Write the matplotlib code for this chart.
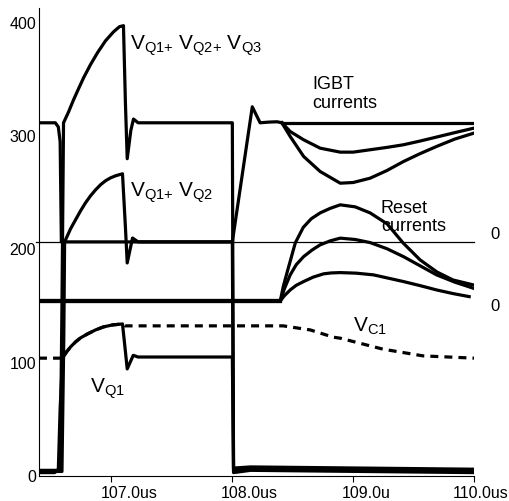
import matplotlib
matplotlib.use("Agg")
import matplotlib.pyplot as plt

plt.rcParams['font.family'] = ['Liberation Sans', 'DejaVu Sans']
plt.rcParams['mathtext.fontset'] = 'custom'
plt.rcParams['mathtext.rm'] = 'Liberation Sans'
plt.rcParams['mathtext.it'] = 'Liberation Sans'

# x in microseconds, y in volts (currents are drawn offset on the same scale)
t_vq123 = [106.40, 106.575, 106.59, 106.603, 106.645, 106.686, 106.727, 106.769, 106.826,
           106.884, 106.95, 107.017, 107.066, 107.099,
           107.115, 107.13, 107.16, 107.182, 107.22, 108.0, 108.01, 108.15, 110.0]
v_vq123 = [5, 5, 150, 311.7, 321.4, 332, 341.7, 351.4, 363,
           373.5, 384, 392, 396.5, 397.4,
           330, 280, 305, 315, 311.7, 311.7, 7, 8, 6]

t_vq12 = [106.40, 106.59, 106.605, 106.612, 106.661, 106.702, 106.744, 106.785, 106.826,
          106.868, 106.909, 106.95, 106.992, 107.033, 107.091,
          107.115, 107.13, 107.174, 107.22, 108.0, 108.01, 108.15, 110.0]
v_vq12 = [4, 4, 120, 206.6, 218.1, 226.0, 234.0, 241.1, 247.2,
          252.5, 257.0, 260.5, 263.1, 264.9, 266.7,
          220, 188, 210, 206.6, 206.6, 5, 6, 4.5]

t_vq1 = [106.40, 106.53, 106.56, 106.575, 106.595, 106.628, 106.661, 106.702, 106.744,
         106.802, 106.868, 106.934, 107.008, 107.091,
         107.115, 107.13, 107.18, 107.22, 108.0, 108.01, 108.15, 110.0]
v_vq1 = [3, 3, 6, 60, 104, 109.5, 113.9, 118.3, 121.9,
         125.4, 128.9, 131.6, 133.3, 134.2,
         110, 94.5, 106.5, 105, 105, 3, 5, 3]

t_vc1 = [106.40, 106.57, 106.595, 106.628, 106.661, 106.702, 106.744, 106.802, 106.868,
         106.934, 107.008, 107.091, 107.11,
         108.421, 108.645, 108.835, 108.893, 109.248, 109.579, 110.0]
v_vc1 = [104, 104, 104, 109.5, 113.9, 118.3, 121.9, 125.4, 128.9,
         131.6, 133.3, 134.2, 132.5,
         132.5, 128.9, 122.5, 121.6, 111.9, 106, 104]

# IGBT currents: common part, then three branches
t_igbt = [106.40, 106.535, 106.56, 106.575, 106.585, 108.0, 108.165, 108.23, 108.30, 108.37, 108.41]
v_igbt = [311.7, 311.7, 308, 295, 206.6, 206.6, 325.8, 311.7, 312.3, 312.6, 311.7]
t_igbt_tail = [108.41, 108.479, 108.59, 108.727, 108.893, 109.0, 109.14, 109.28,
               109.416, 109.55, 109.69, 109.84, 110.0]
igbt_a = [311.7] * 13
igbt_b = [311.7, 304.0, 296.7, 289.3, 285.8, 285.8, 287.9, 290.0,
          292.3, 295.5, 299.1, 303.0, 307.0]
igbt_c = [311.7, 299.6, 282.0, 268.7, 258.4, 259.0, 262.8, 269.6,
          277.5, 284.3, 290.8, 297.3, 302.6]

# Reset currents: baseline then three branches
t_reset = [106.40, 108.397]
v_reset = [154.5, 154.5]
t_reset_a = [108.397, 108.421, 108.454, 108.488, 108.521, 108.587, 108.653, 108.727, 108.810,
             108.893, 109.017, 109.14, 109.281, 109.413, 109.554, 109.694, 109.826, 109.992]
reset_a = [154.5, 167, 180, 193, 205.7, 219.4, 227.0, 232.2, 236.2,
           239.3, 237.5, 232.2, 222.5, 205.7, 190.7, 180, 173, 168.7]
t_reset_b = [108.397, 108.430, 108.479, 108.529, 108.59, 108.661, 108.727, 108.81, 108.893,
             109.017, 109.14, 109.281, 109.416, 109.554, 109.69, 109.843, 109.995]
reset_b = [154.5, 165.0, 177.5, 186.5, 193.6, 199.5, 204.0, 207.5, 209.9,
           208.7, 206.0, 200.5, 193.6, 185.5, 177.5, 171.0, 165.7]
t_reset_c = [108.397, 108.430, 108.479, 108.529, 108.59, 108.669, 108.755, 108.818, 108.893,
             109.025, 109.168, 109.416, 109.554, 109.69, 109.826, 109.96]
reset_c = [154.5, 159.0, 164.2, 168.3, 171.6, 175.5, 178.4, 179.2, 179.5,
           179.0, 177.5, 171.6, 168.0, 164.2, 161.0, 158.3]

zero_igbt = 206.2

xticks = [107.0, 108.0, 109.0, 110.0]
xlabels = ['107.0us', '108.0us', '109.0u', '110.0us']
yticks = [0, 100, 200, 300, 400]

fig = plt.figure(figsize=(5.10, 5.01), dpi=100)
ax = fig.add_axes([39/510, 1-476/501, 435/510, 468/501])

lw = 2.3
ax.axhline(zero_igbt, color='black', lw=0.9, xmin=-0.008, clip_on=False)
ax.plot(t_reset, v_reset, color='black', lw=lw + 0.8)
for tt, vv in [(t_reset_a, reset_a), (t_reset_b, reset_b), (t_reset_c, reset_c)]:
    ax.plot(tt, vv, color='black', lw=lw)
ax.plot(t_igbt, v_igbt, color='black', lw=lw)
for vv in [igbt_a, igbt_b, igbt_c]:
    ax.plot(t_igbt_tail, vv, color='black', lw=lw)
ax.plot(t_vq123, v_vq123, color='black', lw=lw)
ax.plot(t_vq12, v_vq12, color='black', lw=lw)
ax.plot(t_vq1, v_vq1, color='black', lw=lw)
ax.plot(t_vc1, v_vc1, color='black', lw=lw, dashes=(2.5, 1.9))

ax.set_xlim(106.4, 110.0)
ax.set_ylim(0, 413)
for s in ['top', 'right']:
    ax.spines[s].set_visible(False)
for s in ['left', 'bottom']:
    ax.spines[s].set_linewidth(0.8)

ax.set_yticks(yticks)
ax.set_yticklabels([str(v) for v in yticks], fontsize=11.5)
ax.tick_params(axis='y', length=0, pad=2)
ax.set_xticks(xticks)
ax.set_xticklabels([])
ax.tick_params(axis='x', length=4, width=0.8, direction='out')
for xt, lab in zip(xticks, xlabels):
    off = -15 if xt == 110.0 else -8
    ax.annotate(lab, (xt, 0), xycoords=('data', 'axes fraction'), xytext=(off, -7),
                textcoords='offset points', ha='left', va='top', fontsize=11.5,
                annotation_clip=False)

fs = 15
ax.text(107.157, 376, r'$\mathrm{V_{Q1{+}}\ V_{Q2{+}}\ V_{Q3}}$', fontsize=fs, ha='left', va='baseline')
ax.text(107.157, 246.4, r'$\mathrm{V_{Q1{+}}\ V_{Q2}}$', fontsize=fs, ha='left', va='baseline')
ax.text(106.826, 73.3, r'$\mathrm{V_{Q1}}$', fontsize=fs, ha='left', va='baseline')
ax.text(109.0, 127.2, r'$\mathrm{V_{C1}}$', fontsize=fs, ha='left', va='baseline')
ax.text(108.66, 325, 'IGBT\ncurrents', fontsize=13, ha='left', va='baseline', linespacing=1.1)
ax.text(109.23, 216, 'Reset\ncurrents', fontsize=13, ha='left', va='baseline', linespacing=1.1)
ax.text(110.17, 212.8, '0', fontsize=12, ha='center', va='center', clip_on=False)
ax.text(110.17, 149.2, '0', fontsize=12, ha='center', va='center', clip_on=False)

fig.savefig('out.png', dpi=100)
